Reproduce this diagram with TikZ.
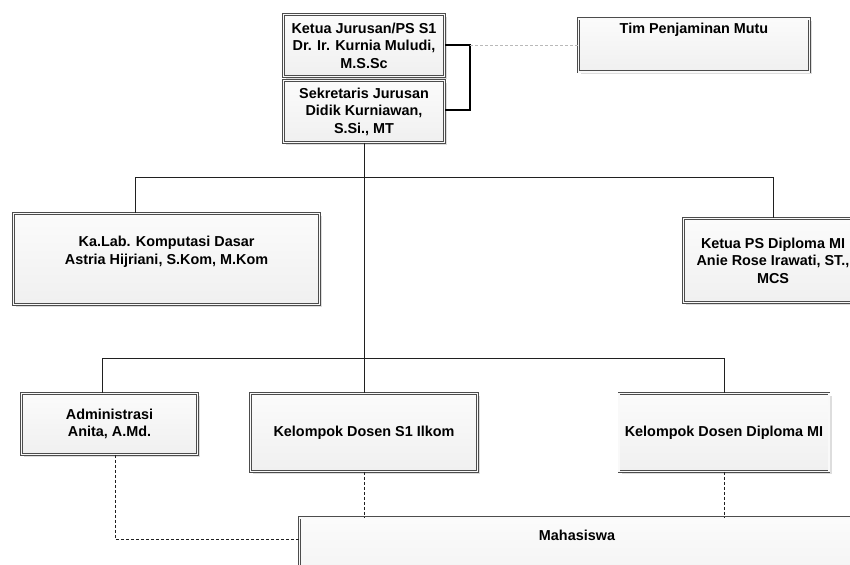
\documentclass[tikz,border=0pt]{standalone}
\usepackage{fontspec}
\setmainfont{Liberation Sans}
\usetikzlibrary{shadows}
\begin{document}
\begin{tikzpicture}[x=1pt,y=-1pt,
 orgbox/.style={draw=gray!60!black, line width=0.6pt, double=gray!5, double distance=1.6pt,
   top color=gray!3, bottom color=gray!12,
   drop shadow={shadow xshift=2.5pt, shadow yshift=-2.5pt, fill=gray!45, opacity=0.6},
   font=\bfseries\fontsize{14.4}{17.5}\selectfont, align=center, inner sep=0pt, text=black},
 conn/.style={draw=gray!25!black, line width=0.7pt},
 dconn/.style={draw=gray!25!black, line width=0.7pt, dash pattern=on 3pt off 2pt},
 gconn/.style={draw=gray!55, line width=0.8pt, dash pattern=on 3pt off 2pt},
 bconn/.style={draw=black, line width=1.1pt}]
\useasboundingbox (0,0) rectangle (850,564);
\clip (0,0) rectangle (850,564);

% nodes
\node[orgbox, minimum width=161, minimum height=62] (ketua) at (364,45.5)
  {Ketua Jurusan/PS S1\\Dr. Ir. Kurnia Muludi,\\M.S.Sc};
\node[orgbox, minimum width=161, minimum height=62] (sek) at (364,111.5)
  {Sekretaris Jurusan\\Didik Kurniawan,\\S.Si., MT};
\node[orgbox, minimum width=231, text height=15, text depth=38, anchor=north] (tim) at (694,18.5)
  {Tim Penjaminan Mutu};
\node[orgbox, minimum width=306, minimum height=91] (kalab) at (166.5,259)
  {Ka.Lab. Komputasi Dasar\\Astria Hijriani, S.Kom, M.Kom\\\mbox{}};
\node[orgbox, minimum width=179, minimum height=84] (kdip) at (773,260.5)
  {Ketua PS Diploma MI\\Anie Rose Irawati, ST.,\\MCS};
\node[orgbox, minimum width=176, minimum height=61] (admin) at (109.5,424)
  {Administrasi\\Anita, A.Md.};
\node[orgbox, minimum width=227, minimum height=78] (s1) at (364,432.5)
  {Kelompok Dosen S1 Ilkom};
\node[orgbox, minimum width=210, minimum height=78] (dipl) at (724,432.5)
  {Kelompok Dosen Diploma MI};
\node[orgbox, minimum width=555, text height=22.5, text depth=70, anchor=north] (mah) at (577,517.5)
  {Mahasiswa};

% junction coordinates
\coordinate (br) at (470,45);
\coordinate (hL) at (135,177);
\coordinate (hR) at (773,177);
\coordinate (lL) at (102,358);
\coordinate (lR) at (724,358);
\coordinate (dA) at (115,539);

% connectors
\draw[bconn] (ketua.east |- br) -- (br) -- (br |- 0,110) -- (sek.east |- 0,110);
\draw[gconn] (br) -- (tim.west |- br);
\draw[conn] (sek.south) -- (s1.north);
\draw[conn] (hL |- kalab.north) -- (hL) -- (hR) -- (kdip.north);
\draw[conn] (lL |- admin.north) -- (lL) -- (lR) -- (dipl.north);
\draw[dconn] (dA |- admin.south) -- (dA) -- (mah.west |- dA);
\draw[dconn] (s1.south) -- (s1.south |- mah.north);
\draw[dconn] (dipl.south) -- (dipl.south |- mah.north);
\end{tikzpicture}
\end{document}
